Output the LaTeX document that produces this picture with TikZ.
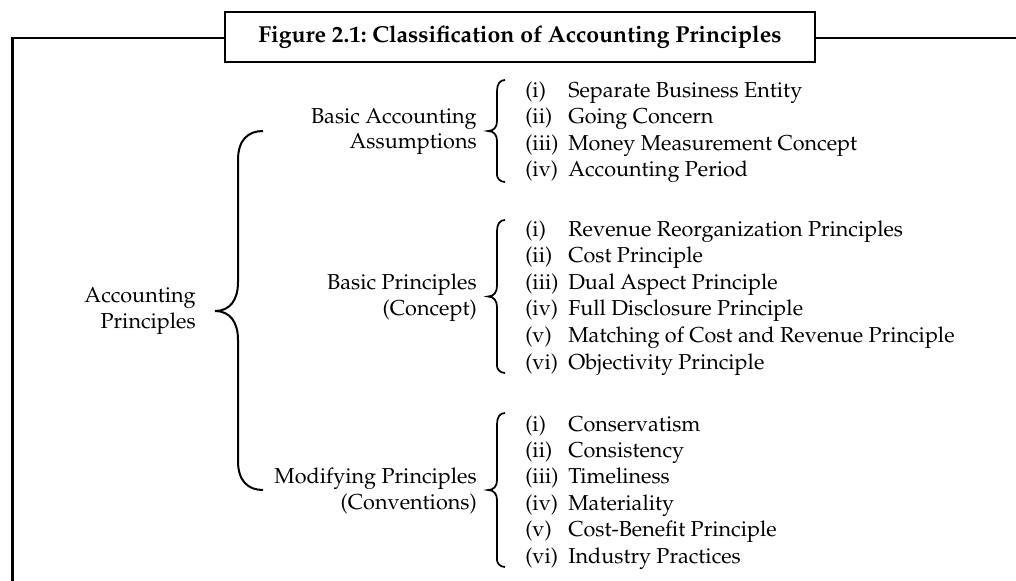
\documentclass[tikz,border=0pt]{standalone}
\usepackage[T1]{fontenc}
\usepackage{mathpazo}
\begin{document}
\begin{tikzpicture}[x=0.75pt,y=-0.75pt,
  frame/.style={line width=1.6pt},
  bracepath/.style={line width=1.3pt},
  txt/.style={inner sep=0pt,font=\fontsize{16.2}{19.8}\selectfont},
  item/.style={txt,anchor=base west},
  lab/.style={txt,anchor=base east}]
\useasboundingbox (0,0) rectangle (1016,581);
% frame and title
\node[draw,frame,minimum width=590*0.75pt,minimum height=50*0.75pt,inner sep=0pt,
  font=\fontsize{17.3}{20}\selectfont\bfseries] (title) at (520,37)
  {Figure 2.1:\ Classification\ of\ Accounting\ Principles};
\coordinate (fbl) at (12.5,581);
\coordinate (ftl) at (12.5,38);
\coordinate (fr) at (1016,38);
\draw[frame] (fbl) -- (ftl) -- (ftl -| title.west);
\draw[frame] (title.east |- fr) -- (fr);
% root label
\node[lab] (rootA) at (196,302) {Accounting};
\node[lab] (rootB) at (196,328) {Principles};
% big brace
\coordinate (bt) at (263,131);
\coordinate (bb) at (263,490);
\coordinate (btip) at (215,311);
\draw[line width=1.5pt] (bt) .. controls (248,131) and (238,140) .. (238,160) -- (238,282)
  .. controls (238,300) and (230,311) .. (btip)
  .. controls (230,311) and (238,322) .. (238,340) -- (238,461)
  .. controls (238,481) and (248,490) .. (bb);
% group 1
\node[lab] (g1a) at (477,123.5) {Basic Accounting};
\node[lab] (g1b) at (477,149) {Assumptions};
\draw[bracepath] (505,80) .. controls (500,80) and (497,84) .. (497,91) -- (497,121)
  .. controls (497,127) and (494,131) .. (488,131)
  .. controls (494,131) and (497,135) .. (497,141) -- (497,175)
  .. controls (497,178) and (500,182) .. (505,182);
\node[item] (g1n1) at (525,97.7) {(i)};
\node[item] (g1t1) at (568,97.7) {Separate Business Entity};
\node[item] (g1n2) at (525,123.9) {(ii)};
\node[item] (g1t2) at (568,123.9) {Going Concern};
\node[item] (g1n3) at (525,150.1) {(iii)};
\node[item] (g1t3) at (568,150.1) {Money Measurement Concept};
\node[item] (g1n4) at (525,176.3) {(iv)};
\node[item] (g1t4) at (568,176.3) {Accounting Period};
% group 2
\node[lab] (g2a) at (477,289) {Basic Principles};
\node[lab] (g2b) at (477,315.5) {(Concept)};
\draw[bracepath] (505,220) .. controls (500,220) and (497,224) .. (497,231) -- (497,286)
  .. controls (497,292) and (494,296.5) .. (488,296.5)
  .. controls (494,296.5) and (497,301) .. (497,307) -- (497,366)
  .. controls (497,369) and (500,373) .. (505,373);
\node[item] (g2n1) at (525,236) {(i)};
\node[item] (g2t1) at (568,236) {Revenue Reorganization Principles};
\node[item] (g2n2) at (525,262.6) {(ii)};
\node[item] (g2t2) at (568,262.6) {Cost Principle};
\node[item] (g2n3) at (525,289.2) {(iii)};
\node[item] (g2t3) at (568,289.2) {Dual Aspect Principle};
\node[item] (g2n4) at (525,315.8) {(iv)};
\node[item] (g2t4) at (568,315.8) {Full Disclosure Principle};
\node[item] (g2n5) at (525,342.4) {(v)};
\node[item] (g2t5) at (568,342.4) {Matching of Cost and Revenue Principle};
\node[item] (g2n6) at (525,369) {(vi)};
\node[item] (g2t6) at (568,369) {Objectivity Principle};
% group 3
\node[lab] (g3a) at (477,483) {Modifying Principles};
\node[lab] (g3b) at (477,509) {(Conventions)};
\draw[bracepath] (505,413) .. controls (500,413) and (497,417) .. (497,424) -- (497,480)
  .. controls (497,486) and (494,490) .. (488,490)
  .. controls (494,490) and (497,494) .. (497,500) -- (497,560)
  .. controls (497,563) and (500,567) .. (505,567);
\node[item] (g3n1) at (525,431) {(i)};
\node[item] (g3t1) at (568,431) {Conservatism};
\node[item] (g3n2) at (525,457.4) {(ii)};
\node[item] (g3t2) at (568,457.4) {Consistency};
\node[item] (g3n3) at (525,483.8) {(iii)};
\node[item] (g3t3) at (568,483.8) {Timeliness};
\node[item] (g3n4) at (525,510.2) {(iv)};
\node[item] (g3t4) at (568,510.2) {Materiality};
\node[item] (g3n5) at (525,536.6) {(v)};
\node[item] (g3t5) at (568,536.6) {Cost-Benefit Principle};
\node[item] (g3n6) at (525,563) {(vi)};
\node[item] (g3t6) at (568,563) {Industry Practices};
\end{tikzpicture}
\end{document}
